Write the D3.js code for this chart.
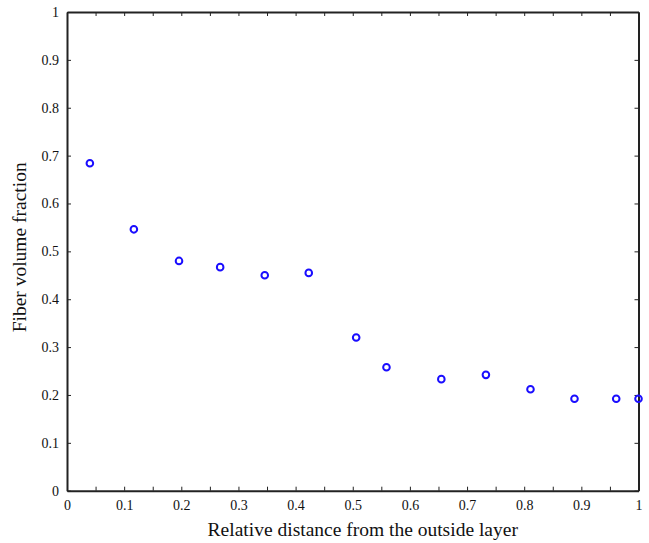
<!DOCTYPE html>
<html>
<head>
<meta charset="utf-8">
<script src="https://cdn.jsdelivr.net/npm/d3@7"></script>
<style>
  body { margin: 0; background: #fff; }
  text { font-family: "Liberation Serif", "DejaVu Serif", serif; fill: #111; }
</style>
</head>
<body>
<script>
var distance = [0.040, 0.117, 0.196, 0.268, 0.346, 0.423, 0.506, 0.559, 0.655, 0.733, 0.811, 0.888, 0.961, 1.0];
var fraction = [0.684, 0.546, 0.480, 0.467, 0.450, 0.455, 0.320, 0.258, 0.233, 0.242, 0.212, 0.192, 0.192, 0.192];
var xTicks = [0, 0.1, 0.2, 0.3, 0.4, 0.5, 0.6, 0.7, 0.8, 0.9, 1];
var xMinor = [0.05, 0.15, 0.25, 0.35, 0.45, 0.55, 0.65, 0.75, 0.85, 0.95];
var yTicks = [0, 0.1, 0.2, 0.3, 0.4, 0.5, 0.6, 0.7, 0.8, 0.9, 1];

var margin = {top: 12, right: 10.5, bottom: 52.3, left: 67},
    width = 649 - margin.left - margin.right,
    height = 543 - margin.top - margin.bottom;

var svg = d3.select("body").append("svg")
    .attr("width", 649)
    .attr("height", 543)
  .append("g")
    .attr("transform", "translate(" + margin.left + "," + margin.top + ")");

var x = d3.scaleLinear().domain([0, 1]).range([0, width]);
var y = d3.scaleLinear().domain([0, 1]).range([height, 0]);

var fmt = function(d) { return d === 0 ? "0" : d === 1 ? "1" : d3.format(".1f")(d); };

// bottom axis with labels, ticks pointing in
svg.append("g")
    .attr("transform", "translate(0," + height + ")")
    .call(d3.axisBottom(x).tickValues(xTicks.concat(xMinor))
      .tickSizeInner(-4).tickSizeOuter(0).tickPadding(9)
      .tickFormat(function(d) { return xTicks.indexOf(d) >= 0 ? fmt(d) : ""; }));

// top axis, ticks only
svg.append("g")
    .call(d3.axisTop(x).tickValues(xTicks.concat(xMinor))
      .tickSizeInner(-4).tickSizeOuter(0).tickFormat(""));

// left axis
svg.append("g")
    .call(d3.axisLeft(y).tickValues(yTicks)
      .tickSizeInner(-4).tickSizeOuter(0).tickPadding(8)
      .tickFormat(fmt));

// right axis, ticks only
svg.append("g")
    .attr("transform", "translate(" + width + ",0)")
    .call(d3.axisRight(y).tickValues(yTicks)
      .tickSizeInner(-4).tickSizeOuter(0).tickFormat(""));

svg.selectAll(".domain").attr("stroke", "#222").attr("stroke-width", 2);
svg.selectAll(".tick line").attr("stroke", "#222").attr("stroke-width", 1);
svg.selectAll(".tick text").style("font-size", "14px").attr("fill", "#111");

// the points
svg.selectAll("circle.pt")
    .data(distance)
  .enter().append("circle")
    .attr("class", "pt")
    .attr("cx", function(d) { return x(d); })
    .attr("cy", function(d, i) { return y(fraction[i]); })
    .attr("r", 3.3)
    .attr("fill", "none")
    .attr("stroke", "#1a0dff")
    .attr("stroke-width", 2);

// axis titles
svg.append("text")
    .attr("x", width / 2 + 10)
    .attr("y", height + 45)
    .attr("text-anchor", "middle")
    .style("font-size", "19.5px")
    .text("Relative distance from the outside layer");

svg.append("text")
    .attr("transform", "rotate(-90)")
    .attr("x", -height / 2 + 4)
    .attr("y", -41)
    .attr("text-anchor", "middle")
    .style("font-size", "19.5px")
    .text("Fiber volume fraction");
</script>
</body>
</html>
